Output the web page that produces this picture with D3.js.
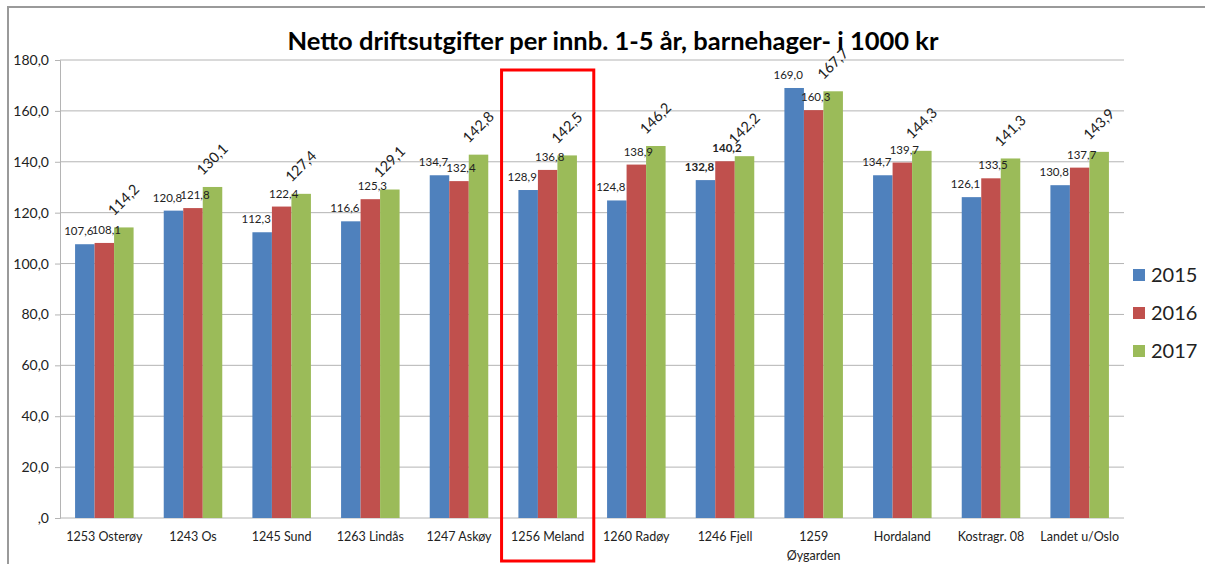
<!DOCTYPE html>
<html>
<head>
<meta charset="utf-8">
<script src="https://cdn.jsdelivr.net/npm/d3@7"></script>
<style>
	body { margin: 0; background: #fff; }
	svg { display: block; font-family: Lato, 'Open Sans', sans-serif; }
</style>
</head>
<body>
<svg id="chart" width="1205" height="564"></svg>
<script>
const title = 'Netto driftsutgifter per innb. 1-5 år, barnehager- i 1000 kr';
const categories = ['1253 Osterøy', '1243 Os', '1245 Sund', '1263 Lindås', '1247 Askøy', '1256 Meland',
	'1260 Radøy', '1246 Fjell', '1259 Øygarden', 'Hordaland', 'Kostragr. 08', 'Landet u/Oslo'];
const years = ['2015', '2016', '2017'];
const v2015 = [107.6, 120.8, 112.3, 116.6, 134.7, 128.9, 124.8, 132.8, 169.0, 134.7, 126.1, 130.8];
const v2016 = [108.1, 121.8, 122.4, 125.3, 132.4, 136.8, 138.9, 140.2, 160.3, 139.7, 133.5, 137.7];
const v2017 = [114.2, 130.1, 127.4, 129.1, 142.8, 142.5, 146.2, 142.2, 167.7, 144.3, 141.3, 143.9];
const yTicks = [0, 20, 40, 60, 80, 100, 120, 140, 160, 180];
const highlighted = '1256 Meland';

const colors = ['#4f81bd', '#c0504d', '#9bbb59'];
const series = [v2015, v2016, v2017];
const fmt = (v) => v === 0 ? ',0' : v.toFixed(1).replace('.', ',');

const svg = d3.select('#chart');

// outer frame
svg.append('path')
	.attr('d', 'M8,564 V7 H1205')
	.attr('fill', 'none')
	.attr('stroke', '#9a9a9a')
	.attr('stroke-width', 2);

const x = d3.scaleBand()
	.domain(categories)
	.range([60, 1124])
	.paddingInner(0.34)
	.paddingOuter(0.17);
const xs = d3.scaleBand()
	.domain(years)
	.range([0, x.bandwidth()]);
const y = d3.scaleLinear()
	.domain([0, 180])
	.range([518, 60]);

// title
svg.append('text')
	.attr('x', 613)
	.attr('y', 50)
	.attr('text-anchor', 'middle')
	.attr('font-size', 25.5)
	.attr('font-weight', 'bold')
	.text(title);

// grid
svg.append('g')
	.selectAll('line')
	.data(yTicks.filter(d => d > 0))
	.join('line')
		.attr('x1', 60)
		.attr('x2', 1124)
		.attr('y1', d => y(d))
		.attr('y2', d => y(d))
		.attr('stroke', '#b4b4b4');

// y axis
const yAxis = svg.append('g')
	.attr('transform', 'translate(60, 0)')
	.call(d3.axisLeft(y).tickValues(yTicks).tickFormat(fmt).tickSize(5).tickPadding(6));
yAxis.select('.domain').attr('stroke', '#b4b4b4');
yAxis.selectAll('.tick line').attr('stroke', '#b4b4b4');
yAxis.selectAll('.tick text')
	.attr('font-size', 14)
	.attr('font-family', 'Lato, sans-serif')
	.attr('fill', '#222');

// x axis line
svg.append('line')
	.attr('x1', 60).attr('x2', 1124)
	.attr('y1', y(0)).attr('y2', y(0))
	.attr('stroke', '#b4b4b4');

// bars
const groups = svg.append('g')
	.selectAll('g')
	.data(categories)
	.join('g')
		.attr('transform', d => `translate(${ x(d) }, 0)`);

groups.selectAll('rect')
	.data((d, i) => years.map((yr, k) => ({ yr, k, v: series[k][i], cat: d })))
	.join('rect')
		.attr('x', d => xs(d.yr))
		.attr('width', xs.bandwidth())
		.attr('y', d => y(d.v))
		.attr('height', d => y(0) - y(d.v))
		.attr('fill', d => colors[d.k]);

// data labels
groups.selectAll('text.lbl')
	.data((d, i) => years.map((yr, k) => ({ yr, k, v: series[k][i], cat: d })))
	.join('text')
		.attr('class', 'lbl')
		.attr('fill', '#222')
		.attr('font-weight', d => d.cat === '1246 Fjell' && d.k < 2 ? 'bold' : 'normal')
		.attr('font-size', d => d.k === 2 ? 14.5 : 11.5)
		.attr('text-anchor', d => d.k === 2 ? 'start' : 'middle')
		.attr('transform', d => {
			const cx = xs(d.yr) + xs.bandwidth() / 2;
			if (d.k === 2) return `translate(${ xs(d.yr) }, ${ y(d.v) - 11 }) rotate(-45)`;
			return `translate(${ cx + (d.k === 0 ? -6 : 2) }, ${ y(d.v) - 9 })`;
		})
		.text(d => fmt(d.v));

// category labels
const xl = svg.append('g')
	.selectAll('text')
	.data(categories)
	.join('text')
		.attr('x', d => x(d) + x.bandwidth() / 2)
		.attr('y', 541)
		.attr('text-anchor', 'middle')
		.attr('font-size', 12.5)
		.attr('fill', '#222');
xl.each(function (d) {
	const parts = d === '1259 Øygarden' ? ['1259', 'Øygarden'] : [d];
	d3.select(this).selectAll('tspan')
		.data(parts)
		.join('tspan')
			.attr('x', x(d) + x.bandwidth() / 2)
			.attr('dy', (p, i) => i === 0 ? 0 : 19)
			.text(p => p);
});

// highlight box
svg.append('rect')
	.attr('x', x(highlighted) - x.step() * 0.19)
	.attr('y', y(180) + 10)
	.attr('width', x.bandwidth() + x.step() * 0.38)
	.attr('height', 561 - (y(180) + 10))
	.attr('fill', 'none')
	.attr('stroke', '#ff0000')
	.attr('stroke-width', 3);

// legend
const legend = svg.append('g')
	.selectAll('g')
	.data(years)
	.join('g')
		.attr('transform', (d, i) => `translate(1133, ${ 275 + i * 38 })`);
legend.append('rect')
	.attr('x', 0)
	.attr('y', -6)
	.attr('width', 12)
	.attr('height', 12)
	.attr('fill', (d, i) => colors[i]);
legend.append('text')
	.attr('x', 18)
	.attr('y', 7)
	.attr('font-size', 20)
	.attr('fill', '#222')
	.text(d => d);
</script>
</body>
</html>
